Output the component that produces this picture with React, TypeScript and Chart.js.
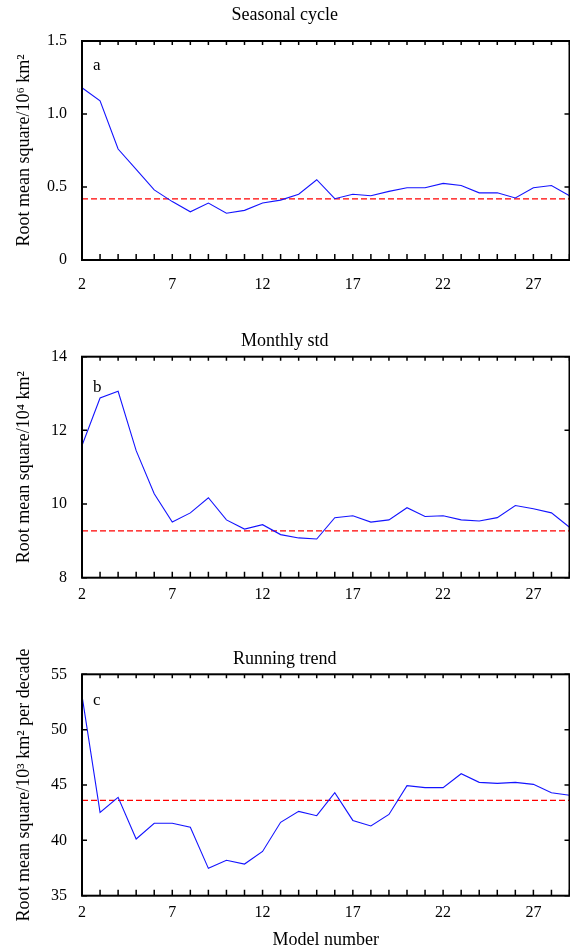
import React, { useEffect, useRef } from 'react';
import { Chart, registerables } from 'chart.js';

Chart.register(...registerables);

// ---- data ----
const models = [2, 3, 4, 5, 6, 7, 8, 9, 10, 11, 12, 13, 14, 15, 16, 17, 18, 19, 20, 21, 22, 23, 24, 25, 26, 27, 28, 29];
const xTickLabels = [2, 7, 12, 17, 22, 27];

const seasonalRms = [1.18, 1.09, 0.76, 0.62, 0.48, 0.40, 0.33, 0.39, 0.32, 0.34, 0.39, 0.41, 0.45, 0.55, 0.42, 0.45, 0.44, 0.47, 0.495, 0.495, 0.525, 0.51, 0.46, 0.46, 0.425, 0.495, 0.51, 0.44];
const monthlyStdRms = [11.59, 12.88, 13.06, 11.45, 10.28, 9.51, 9.76, 10.17, 9.57, 9.32, 9.44, 9.17, 9.08, 9.05, 9.63, 9.68, 9.51, 9.57, 9.9, 9.66, 9.68, 9.57, 9.54, 9.63, 9.96, 9.87, 9.76, 9.37];
const runningTrendRms = [53.07, 42.53, 43.89, 40.12, 41.54, 41.54, 41.18, 37.47, 38.2, 37.86, 39.0, 41.63, 42.62, 42.23, 44.3, 41.8, 41.3, 42.34, 44.94, 44.76, 44.76, 46.02, 45.24, 45.15, 45.24, 45.06, 44.3, 44.07];

const seasonalRef = 0.418;
const monthlyStdRef = 9.27;
const runningTrendRef = 43.62;

const seasonalYTicks = [0, 0.5, 1.0, 1.5];
const monthlyYTicks = [8, 10, 12, 14];
const trendYTicks = [35, 40, 45, 50, 55];

const FONT = "'Liberation Serif', 'Times New Roman', serif";

const framePlugin = {
  id: 'frame',
  afterDraw(chart: any, _args: any, opts: any) {
    const { ctx, chartArea } = chart;
    const { left, right, top, bottom } = chartArea;
    const xs = chart.scales.x;
    const ys = chart.scales.y;
    ctx.save();
    ctx.strokeStyle = '#000';
    ctx.lineWidth = 1.5;
    ctx.beginPath();
    xs.ticks.forEach((t: any) => {
      const px = xs.getPixelForValue(t.value);
      ctx.moveTo(px, bottom);
      ctx.lineTo(px, bottom - 6);
      ctx.moveTo(px, top);
      ctx.lineTo(px, top + 4);
    });
    ys.ticks.forEach((t: any) => {
      const py = ys.getPixelForValue(t.value);
      ctx.moveTo(left, py);
      ctx.lineTo(left + 5, py);
      ctx.moveTo(right, py);
      ctx.lineTo(right - 5, py);
    });
    ctx.stroke();
    ctx.lineWidth = 2;
    ctx.strokeRect(left, top, right - left, bottom - top);
    ctx.fillStyle = '#000';
    ctx.font = `17px ${FONT}`;
    ctx.textBaseline = 'alphabetic';
    ctx.textAlign = 'left';
    ctx.fillText(opts.letter, left + 11, top + opts.letterDy);
    ctx.restore();
  },
};

type PanelProps = {
  top: number;
  height: number;
  title: string;
  titlePad: { top: number; bottom: number };
  yTitle: string;
  yTicks: number[];
  values: number[];
  refValue: number;
  xAxisHeight: number;
  xTickPad: number;
  xTitle?: string;
  letter: string;
  letterDy: number;
  fmt: (v: number) => string;
};

function Panel(p: PanelProps) {
  const ref = useRef<HTMLCanvasElement | null>(null);
  useEffect(() => {
    if (!ref.current) return;
    const chart = new Chart(ref.current, {
      type: 'line',
      data: {
        datasets: [
          {
            data: models.map((m, i) => ({ x: m, y: p.values[i] })),
            borderColor: '#1414ff',
            borderWidth: 1.1,
            pointRadius: 0,
            tension: 0,
            fill: false,
          },
          {
            data: [
              { x: models[0], y: p.refValue },
              { x: models[models.length - 1], y: p.refValue },
            ],
            borderColor: '#ff0000',
            borderWidth: 1.2,
            borderDash: [6, 3],
            pointRadius: 0,
            fill: false,
          },
        ],
      },
      options: {
        animation: false,
        responsive: false,
        layout: { padding: { left: 0, right: 0.5, top: 0, bottom: 0 } },
        plugins: {
          legend: { display: false },
          tooltip: { enabled: false },
          title: {
            display: true,
            text: p.title,
            color: '#000',
            font: { family: FONT, size: 18, weight: 'normal' },
            padding: p.titlePad,
          },
          frame: { letter: p.letter, letterDy: p.letterDy },
        } as any,
        scales: {
          x: {
            type: 'linear',
            min: models[0],
            max: models[models.length - 1],
            grid: { display: false, drawTicks: false },
            border: { display: false },
            ticks: {
              stepSize: 1,
              autoSkip: false,
              maxRotation: 0,
              minRotation: 0,
              padding: p.xTickPad,
              color: '#000',
              font: { family: FONT, size: 16 },
              callback: (v: any) => (xTickLabels.includes(Number(v)) ? String(v) : ''),
            },
            title: p.xTitle
              ? {
                  display: true,
                  text: p.xTitle,
                  color: '#000',
                  font: { family: FONT, size: 18 },
                  padding: { top: 0, bottom: 1 },
                }
              : { display: false },
            afterFit: (s: any) => {
              s.height = p.xAxisHeight;
              s.paddingLeft = 0;
              s.paddingRight = 0;
            },
          },
          y: {
            type: 'linear',
            min: p.yTicks[0],
            max: p.yTicks[p.yTicks.length - 1],
            grid: { display: false, drawTicks: false },
            border: { display: false },
            ticks: {
              stepSize: p.yTicks[1] - p.yTicks[0],
              padding: 15,
              color: '#000',
              font: { family: FONT, size: 16 },
              callback: (v: any) => p.fmt(Number(v)),
            },
            title: {
              display: true,
              text: p.yTitle,
              color: '#000',
              font: { family: FONT, size: 18 },
              padding: { top: 13, bottom: 0 },
            },
            afterFit: (s: any) => {
              s.width = 82;
            },
          },
        },
      } as any,
      plugins: [framePlugin],
    });
    return () => chart.destroy();
  }, []);
  return (
    <div style={{ position: 'absolute', left: 0, top: p.top, width: 570, height: p.height }}>
      <canvas ref={ref} width={570} height={p.height} style={{ display: 'block' }} />
    </div>
  );
}

export default function App() {
  return (
    <div style={{ position: 'absolute', left: 0, top: 0, width: 570, height: 952, background: '#fff' }}>
      <Panel
        top={0}
        height={300}
        title="Seasonal cycle"
        titlePad={{ top: 4, bottom: 15.4 }}
        yTitle="Root mean square/10⁶ km²"
        yTicks={seasonalYTicks}
        values={seasonalRms}
        refValue={seasonalRef}
        xAxisHeight={40}
        xTickPad={15.4}
        letter="a"
        letterDy={29}
        fmt={(v) => (v === 0 ? '0' : v.toFixed(1))}
      />
      <Panel
        top={310}
        height={300}
        title="Monthly std"
        titlePad={{ top: 20.9, bottom: 4.2 }}
        yTitle="Root mean square/10⁴ km²"
        yTicks={monthlyYTicks}
        values={monthlyStdRms}
        refValue={monthlyStdRef}
        xAxisHeight={32.3}
        xTickPad={7.4}
        letter="b"
        letterDy={35}
        fmt={(v) => String(v)}
      />
      <Panel
        top={620}
        height={332}
        title="Running trend"
        titlePad={{ top: 28.9, bottom: 3.8 }}
        yTitle="Root mean square/10³ km² per decade"
        yTicks={trendYTicks}
        values={runningTrendRms}
        refValue={runningTrendRef}
        xAxisHeight={56.3}
        xTickPad={7.4}
        xTitle="Model number"
        letter="c"
        letterDy={30.7}
        fmt={(v) => String(v)}
      />
    </div>
  );
}
